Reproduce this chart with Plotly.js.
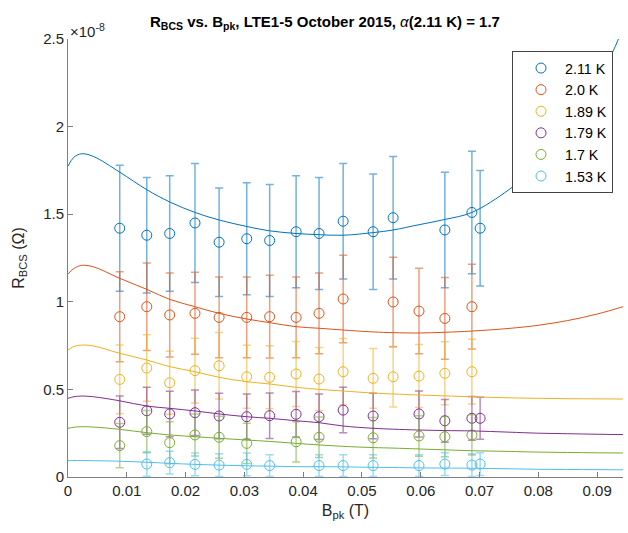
<!DOCTYPE html>
<html>
<head>
<meta charset="utf-8">
<script src="https://cdn.plot.ly/plotly-3.0.1.min.js"></script>
<style>html,body{margin:0;padding:0;background:#fff;}#chart{width:628px;height:533px;}</style>
</head>
<body>
<div id="chart"></div>
<script>
// Values of R_BCS are in units of 1e-8 Ohm
const seriesNames = ["2.11 K", "2.0 K", "1.89 K", "1.79 K", "1.7 K", "1.53 K"];
const seriesColors = ["#0072BD", "#D95319", "#EDB120", "#7E2F8E", "#77AC30", "#4DBEEE"];

const x211 = [0.0088,0.0134,0.0173,0.0216,0.0257,0.0304,0.0343,0.0388,0.0427,0.0468,0.0519,0.0553,0.0641,0.0687,0.0701];
const y211 = [1.42,1.38,1.39,1.45,1.34,1.36,1.35,1.40,1.39,1.46,1.40,1.48,1.41,1.51,1.42];
const e211 = [0.36,0.33,0.33,0.34,0.31,0.32,0.32,0.32,0.32,0.33,0.33,0.35,0.33,0.35,0.33];

const x200 = [0.0088,0.0134,0.0173,0.0216,0.0257,0.0304,0.0343,0.0388,0.0427,0.0468,0.0553,0.0597,0.0641,0.0687];
const y200 = [0.915,0.972,0.925,0.934,0.911,0.911,0.915,0.911,0.934,1.016,0.999,0.947,0.905,0.972];
const e200 = [0.257,0.25,0.24,0.234,0.23,0.23,0.236,0.23,0.23,0.25,0.255,0.244,0.233,0.242];

const x189 = [0.0088,0.0134,0.0173,0.0216,0.0257,0.0304,0.0343,0.0388,0.0427,0.0468,0.0519,0.0553,0.0597,0.0641,0.0687];
const y189 = [0.557,0.622,0.538,0.607,0.635,0.572,0.569,0.588,0.559,0.601,0.563,0.572,0.576,0.592,0.601];
const e189 = [0.196,0.19,0.18,0.185,0.19,0.18,0.18,0.185,0.18,0.19,0.17,0.173,0.18,0.18,0.185];

const x179 = [0.0088,0.0134,0.0173,0.0216,0.0257,0.0304,0.0343,0.0388,0.0427,0.0468,0.0519,0.0597,0.0641,0.0687,0.0701];
const y179 = [0.312,0.378,0.36,0.367,0.348,0.344,0.35,0.358,0.344,0.382,0.348,0.36,0.321,0.335,0.335];
const e179 = [0.15,0.134,0.13,0.13,0.13,0.13,0.13,0.13,0.13,0.13,0.13,0.131,0.122,0.125,0.12];

const x170 = [0.0088,0.0134,0.0173,0.0216,0.0257,0.0304,0.0388,0.0427,0.0519,0.0597,0.0641,0.0687];
const y170 = [0.179,0.259,0.196,0.24,0.227,0.192,0.201,0.227,0.224,0.234,0.23,0.24];
const e170 = [0.126,0.12,0.12,0.12,0.12,0.115,0.115,0.115,0.115,0.115,0.115,0.115];

const x153 = [0.0134,0.0173,0.0216,0.0257,0.0304,0.0343,0.0427,0.0468,0.0519,0.0597,0.0641,0.0687,0.0701];
const y153 = [0.074,0.082,0.072,0.068,0.072,0.065,0.065,0.065,0.065,0.065,0.074,0.068,0.074];
const e153 = [0.07,0.065,0.065,0.065,0.065,0.062,0.062,0.062,0.062,0.062,0.065,0.065,0.065];

// Fit curves
const fitX = [0,0.001,0.0023,0.0043,0.0088,0.0134,0.0173,0.0216,0.0257,0.0304,0.0343,0.0388,0.0427,0.0468,0.0519,0.0553,0.0597,0.0641,0.0687,0.075,0.08,0.085,0.09,0.0944];
const fit211 = [1.775,1.825,1.845,1.83,1.74,1.64,1.57,1.51,1.467,1.43,1.405,1.39,1.383,1.38,1.395,1.41,1.44,1.47,1.51,1.64,1.78,1.97,2.24,2.56];
const fit200 = [1.159,1.19,1.208,1.2,1.134,1.071,1.014,0.972,0.934,0.902,0.881,0.858,0.849,0.839,0.828,0.824,0.822,0.826,0.833,0.848,0.866,0.893,0.93,0.972];
const fit189 = [0.725,0.745,0.753,0.748,0.706,0.668,0.63,0.601,0.569,0.544,0.531,0.512,0.5,0.491,0.479,0.474,0.468,0.463,0.458,0.452,0.449,0.447,0.446,0.445];
const fit179 = [0.449,0.458,0.462,0.458,0.435,0.405,0.392,0.377,0.36,0.344,0.335,0.321,0.31,0.291,0.278,0.273,0.268,0.265,0.263,0.256,0.25,0.247,0.244,0.242];
const fit170 = [0.278,0.284,0.287,0.285,0.272,0.253,0.24,0.23,0.221,0.211,0.203,0.192,0.183,0.175,0.168,0.165,0.16,0.155,0.15,0.146,0.142,0.14,0.138,0.137];
const fit153 = [0.093,0.094,0.094,0.093,0.09,0.084,0.078,0.072,0.068,0.064,0.062,0.059,0.059,0.058,0.055,0.054,0.052,0.051,0.05,0.047,0.044,0.043,0.042,0.041];

const xTickVals = [0,0.01,0.02,0.03,0.04,0.05,0.06,0.07,0.08,0.09];
const xTickText = ["0","0.01","0.02","0.03","0.04","0.05","0.06","0.07","0.08","0.09"];
const yTickVals = [0,0.5,1,1.5,2,2.5];
const yTickText = ["0","0.5","1","1.5","2","2.5"];

const dataX = [x211,x200,x189,x179,x170,x153];
const dataY = [y211,y200,y189,y179,y170,y153];
const dataE = [e211,e200,e189,e179,e170,e153];
const fits = [fit211,fit200,fit189,fit179,fit170,fit153];

function rgba(hex, a){
  const r=parseInt(hex.slice(1,3),16),g=parseInt(hex.slice(3,5),16),b=parseInt(hex.slice(5,7),16);
  return `rgba(${r},${g},${b},${a})`;
}

const traces = [];
for (let i=0;i<6;i++){
  traces.push({
    x: dataX[i], y: dataY[i], type:'scatter', mode:'markers', name: seriesNames[i],
    marker:{symbol:'circle-open', size:10, color: seriesColors[i], line:{width:1, color: rgba(seriesColors[i],0.85)}},
    error_y:{type:'data', array: dataE[i], visible:true, color: rgba(seriesColors[i],0.55), thickness:1.5, width:4},
    showlegend:true
  });
}
for (let i=0;i<6;i++){
  traces.push({
    x: fitX, y: fits[i], type:'scatter', mode:'lines',
    line:{color: seriesColors[i], width:1, shape:'spline', smoothing:1},
    showlegend:false, hoverinfo:'skip'
  });
}

const font = 'Liberation Sans, Arial, Helvetica, sans-serif';
const layout = {
  width:628, height:533,
  margin:{l:68, r:5, t:39, b:56},
  paper_bgcolor:'#fff', plot_bgcolor:'#fff',
  font:{family:font, size:15, color:'#262626'},
  title:{
    text:'<b>R<sub>BCS</sub> vs. B<sub>pk</sub>, LTE1-5 October 2015, </b><i>α</i><b>(2.11 K) = 1.7</b>',
    font:{family:font, size:15, color:'#000'},
    x:0.5175, xref:'container', xanchor:'center',
    y:0.96, yref:'container', yanchor:'middle'
  },
  xaxis:{
    range:[0,0.0944], tickvals:xTickVals, ticktext:xTickText,
    ticks:'inside', ticklen:5, tickcolor:'#7f7f7f', showline:true, linecolor:'#7f7f7f', linewidth:1,
    showgrid:false, zeroline:false, tickfont:{size:15, color:'#262626'},
    title:{text:'B<sub>pk</sub> (T)', font:{size:16, color:'#262626'}, standoff:6}
  },
  yaxis:{
    range:[0,2.5], tickvals:yTickVals, ticktext:yTickText,
    ticks:'inside', ticklen:5, tickcolor:'#7f7f7f', showline:true, linecolor:'#7f7f7f', linewidth:1,
    showgrid:false, zeroline:false, tickfont:{size:15, color:'#262626'},
    title:{text:'R<sub>BCS</sub> (Ω)', font:{size:16, color:'#262626'}, standoff:14}
  },
  legend:{
    x:0.982, xanchor:'right', y:0.972, yanchor:'top',
    bgcolor:'#fff', bordercolor:'#444', borderwidth:1,
    font:{size:14.3, color:'#000'}, itemwidth:38, indentation:4
  },
  annotations:[{
    text:'×10<sup>-8</sup>', xref:'paper', yref:'paper', x:0, y:1, xanchor:'left', yanchor:'bottom',
    showarrow:false, font:{size:15, color:'#262626'}, xshift:0, yshift:-3
  }]
};

Plotly.newPlot('chart', traces, layout, {staticPlot:true, displayModeBar:false});
</script>
</body>
</html>
